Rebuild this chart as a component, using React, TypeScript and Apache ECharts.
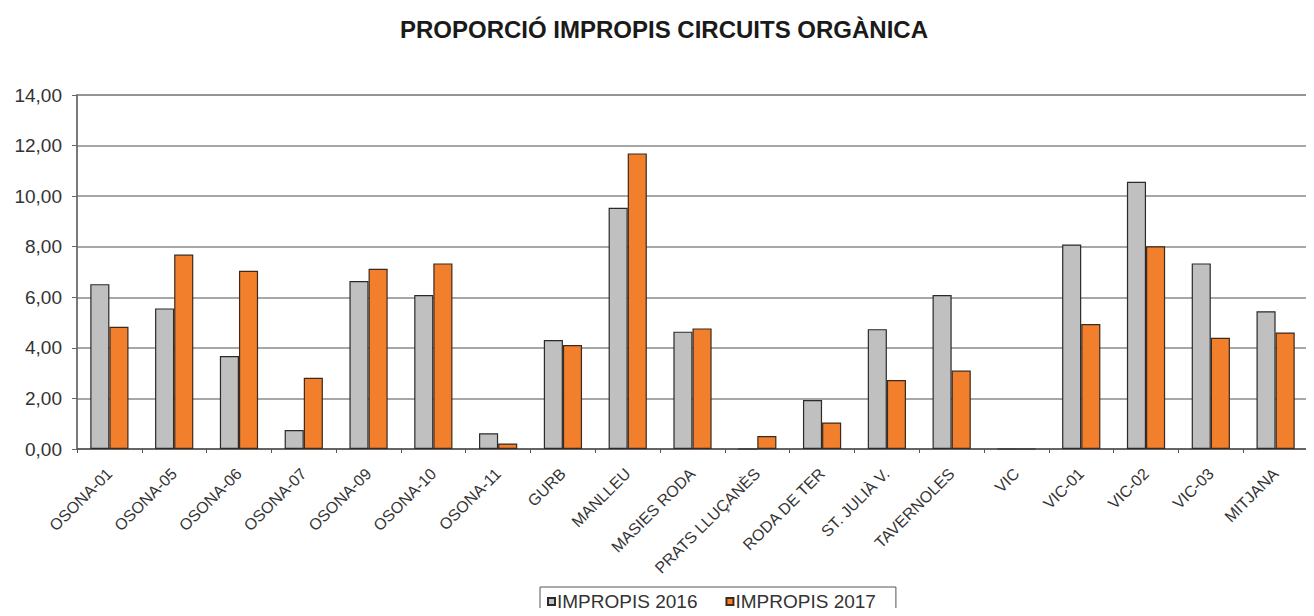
import React, { useEffect, useRef } from "react";
import * as echarts from "echarts";

const categories = [
  "OSONA-01", "OSONA-05", "OSONA-06", "OSONA-07", "OSONA-09", "OSONA-10", "OSONA-11",
  "GURB", "MANLLEU", "MASIES RODA", "PRATS LLUÇANÈS", "RODA DE TER", "ST. JULIÀ V.",
  "TAVERNOLES", "VIC", "VIC-01", "VIC-02", "VIC-03", "MITJANA",
];
const impropis2016 = [6.52, 5.56, 3.68, 0.75, 6.64, 6.09, 0.62, 4.31, 9.54, 4.64, 0, 1.94, 4.74, 6.09, 0, 8.09, 10.57, 7.34, 5.45];
const impropis2017 = [4.83, 7.69, 7.05, 2.82, 7.13, 7.34, 0.22, 4.11, 11.69, 4.77, 0.51, 1.05, 2.73, 3.1, 0, 4.94, 8.02, 4.4, 4.61];
const seriesNames = ["IMPROPIS 2016", "IMPROPIS 2017"];
const yTicks = { min: 0, max: 14, interval: 2 };

export default function App() {
  const ref = useRef<HTMLDivElement>(null);
  useEffect(() => {
    if (!ref.current) return;
    const chart = echarts.init(ref.current, undefined, { renderer: "svg" });
    const font = "Liberation Sans, Arial, sans-serif";
    chart.setOption({
      animation: false,
      backgroundColor: "#ffffff",
      title: {
        text: "PROPORCIÓ IMPROPIS CIRCUITS ORGÀNICA",
        left: 659,
        textAlign: "center",
        top: 12,
        textStyle: { fontFamily: font, fontSize: 24, fontWeight: "bold", color: "#1a1a1a" },
      },
      legend: {
        data: seriesNames,
        left: 540,
        top: 587,
        itemWidth: 7,
        itemHeight: 7,
        itemGap: 28,
        padding: [5, 20, 5, 7],
        borderColor: "#555",
        borderWidth: 1,
        borderRadius: 0,
        icon: "rect",
        textStyle: { fontFamily: font, fontSize: 19, color: "#333", padding: [0, 0, 0, -3] },
      },
      grid: { left: 77, right: 6, top: 95, bottom: 167, show: true, borderColor: "#999", borderWidth: 1.5 },
      xAxis: {
        type: "category",
        data: categories,
        axisLine: { lineStyle: { color: "#555", width: 1.5 } },
        axisTick: { show: true, alignWithLabel: false, length: 4, lineStyle: { color: "#555" } },
        axisLabel: {
          rotate: 45,
          interval: 0,
          fontFamily: font,
          fontSize: 16,
          color: "#333",
          margin: 22,
        },
      },
      yAxis: {
        type: "value",
        min: yTicks.min,
        max: yTicks.max,
        interval: yTicks.interval,
        axisLine: { show: true, lineStyle: { color: "#666", width: 1.5 } },
        axisTick: { show: true, length: 5, lineStyle: { color: "#666" } },
        splitLine: { lineStyle: { color: "#8a8a8a", width: 1.5 } },
        axisLabel: {
          fontFamily: font,
          fontSize: 19,
          color: "#333",
          margin: 15,
          formatter: (v: number) => v.toFixed(2).replace(".", ","),
        },
      },
      series: [
        {
          name: seriesNames[0],
          type: "bar",
          data: impropis2016,
          barGap: "0%",
          barCategoryGap: "41%",
          itemStyle: { color: "#c0c0c0", borderColor: "#2a2a2a", borderWidth: 1.2 },
        },
        {
          name: seriesNames[1],
          type: "bar",
          data: impropis2017,
          barGap: "0%",
          barCategoryGap: "41%",
          itemStyle: { color: "#f27f2c", borderColor: "#3a2a20", borderWidth: 1.2 },
        },
      ],
    });
    return () => chart.dispose();
  }, []);
  return <div ref={ref} style={{ width: 1314, height: 616, margin: -8 }} />;
}
